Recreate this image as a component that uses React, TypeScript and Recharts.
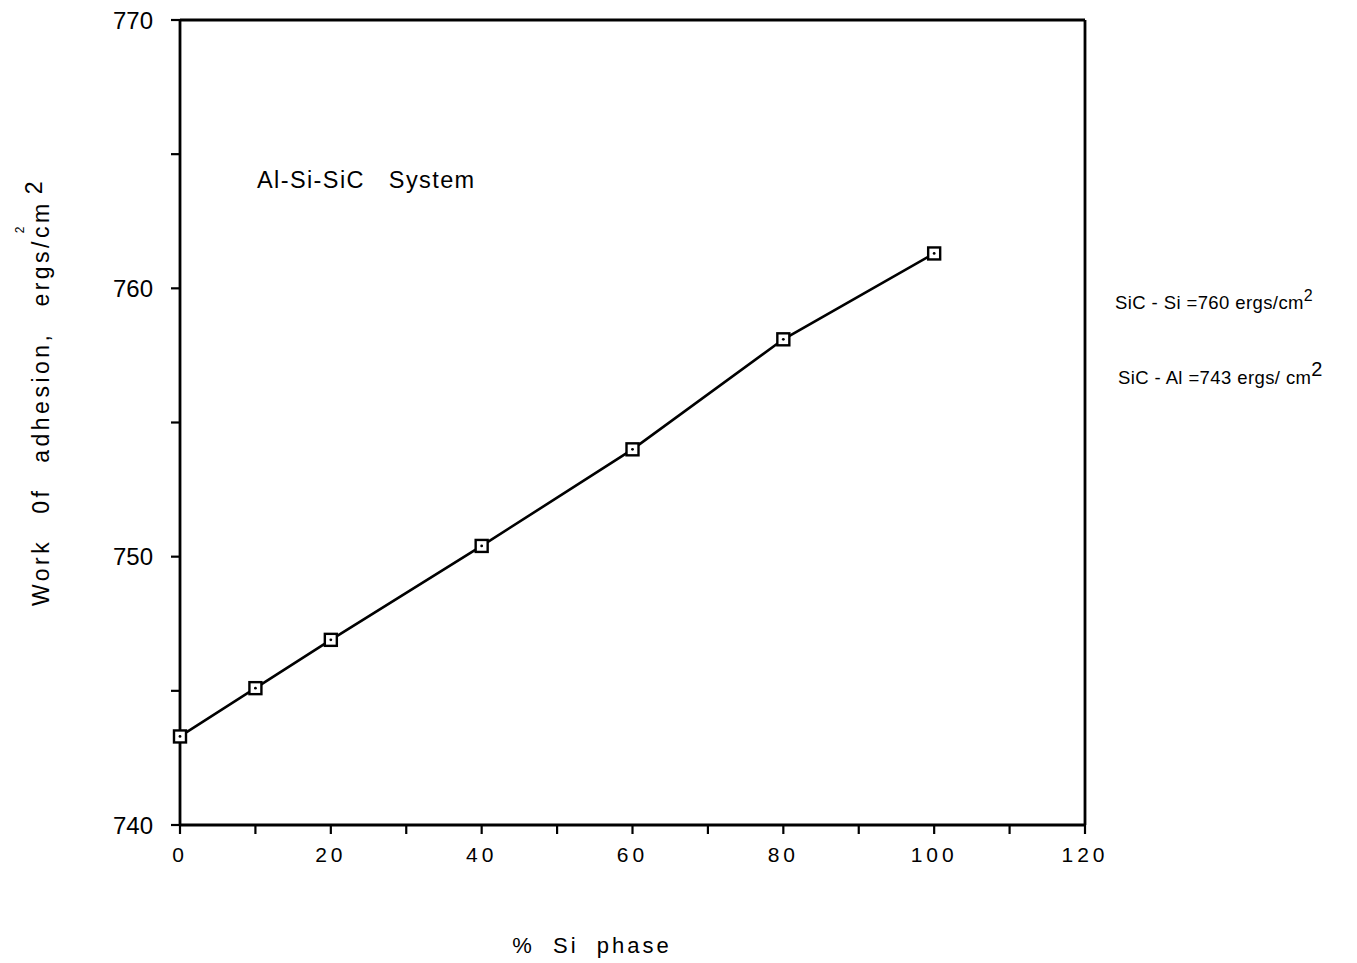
import React from "react";
import {
  LineChart,
  Line,
  XAxis,
  YAxis,
  ReferenceLine,
  Customized,
} from "recharts";

const siPercent = [0, 10, 20, 40, 60, 80, 100];
const workOfAdhesion = [743.3, 745.1, 746.9, 750.4, 754.0, 758.1, 761.3];
const xTicks = [0, 10, 20, 30, 40, 50, 60, 70, 80, 90, 100, 110, 120];
const yTicks = [740, 745, 750, 755, 760, 765, 770];

const data = siPercent.map((x, i) => ({ x, y: workOfAdhesion[i] }));

const FONT = "'Liberation Sans', Arial, Helvetica, sans-serif";

const SquareDot = (props: any) => {
  const { cx, cy } = props;
  if (cx == null || cy == null) return null;
  return (
    <g>
      <rect x={cx - 6} y={cy - 6} width={12} height={12} fill="#fff" stroke="#000" strokeWidth={2.4} />
      <circle cx={cx} cy={cy} r={1.4} fill="#000" />
    </g>
  );
};

const Annotations = () => (
  <g fontFamily={FONT} fill="#000">
    <text x={249} y={180} fontSize={23.5} letterSpacing={1.4} style={{ wordSpacing: 16 }}>
      Al-Si-SiC System
    </text>
    <text x={1107} y={301} fontSize={18.5} letterSpacing={0.4}>
      SiC - Si =760 ergs/cm
      <tspan dy={-8} fontSize={16}>2</tspan>
    </text>
    <text x={1110} y={376} fontSize={18.5} letterSpacing={0.4}>
      SiC - Al =743 ergs/ cm
      <tspan dy={-8} fontSize={20}>2</tspan>
    </text>
    <g transform="translate(41,384) rotate(-90)">
      <text x={0} y={0} fontSize={23} textAnchor="middle" letterSpacing={3.5} style={{ wordSpacing: 15 }}>
        Work 0f adhesion, ergs/cm
        <tspan dx={6} dy={-7}>2</tspan>
      </text>
    </g>
    <text x={16} y={222} fontSize={12} textAnchor="middle" transform="rotate(-90 16 222)">2</text>
    <text x={584} y={945} fontSize={22} textAnchor="middle" letterSpacing={3} style={{ wordSpacing: 9 }}>
      % Si phase
    </text>
  </g>
);

export default function App() {
  return (
    <div style={{ width: 1340, height: 950 }}>
      <LineChart
        width={1340}
        height={950}
        data={data}
        margin={{ top: 12, right: 263, left: 0, bottom: 0 }}
      >
        <XAxis
          dataKey="x"
          type="number"
          domain={[0, 120]}
          ticks={xTicks}
          interval={0}
          height={133}
          axisLine={{ stroke: "#000", strokeWidth: 2.8 }}
          tickLine={{ stroke: "#000", strokeWidth: 2.2 }}
          tickSize={9}
          tickMargin={13}
          tickFormatter={(v: number) => (v % 20 === 0 ? String(v) : "")}
          tick={{ fill: "#000", fontSize: 21, fontFamily: FONT, letterSpacing: 4 }}
        />
        <YAxis
          dataKey="y"
          type="number"
          domain={[740, 770]}
          ticks={yTicks}
          interval={0}
          width={172}
          axisLine={{ stroke: "#000", strokeWidth: 2.8 }}
          tickLine={{ stroke: "#000", strokeWidth: 2.2 }}
          tickSize={9}
          tickMargin={18}
          tickFormatter={(v: number) => (v % 10 === 0 ? String(v) : "")}
          tick={{ fill: "#000", fontSize: 24, fontFamily: FONT }}
        />
        <ReferenceLine y={770} stroke="#000" strokeWidth={2.8} />
        <ReferenceLine x={120} stroke="#000" strokeWidth={2.8} />
        <Line
          dataKey="y"
          stroke="#000"
          strokeWidth={2.6}
          dot={<SquareDot />}
          activeDot={false}
          isAnimationActive={false}
        />
        <Customized component={Annotations} />
      </LineChart>
    </div>
  );
}
